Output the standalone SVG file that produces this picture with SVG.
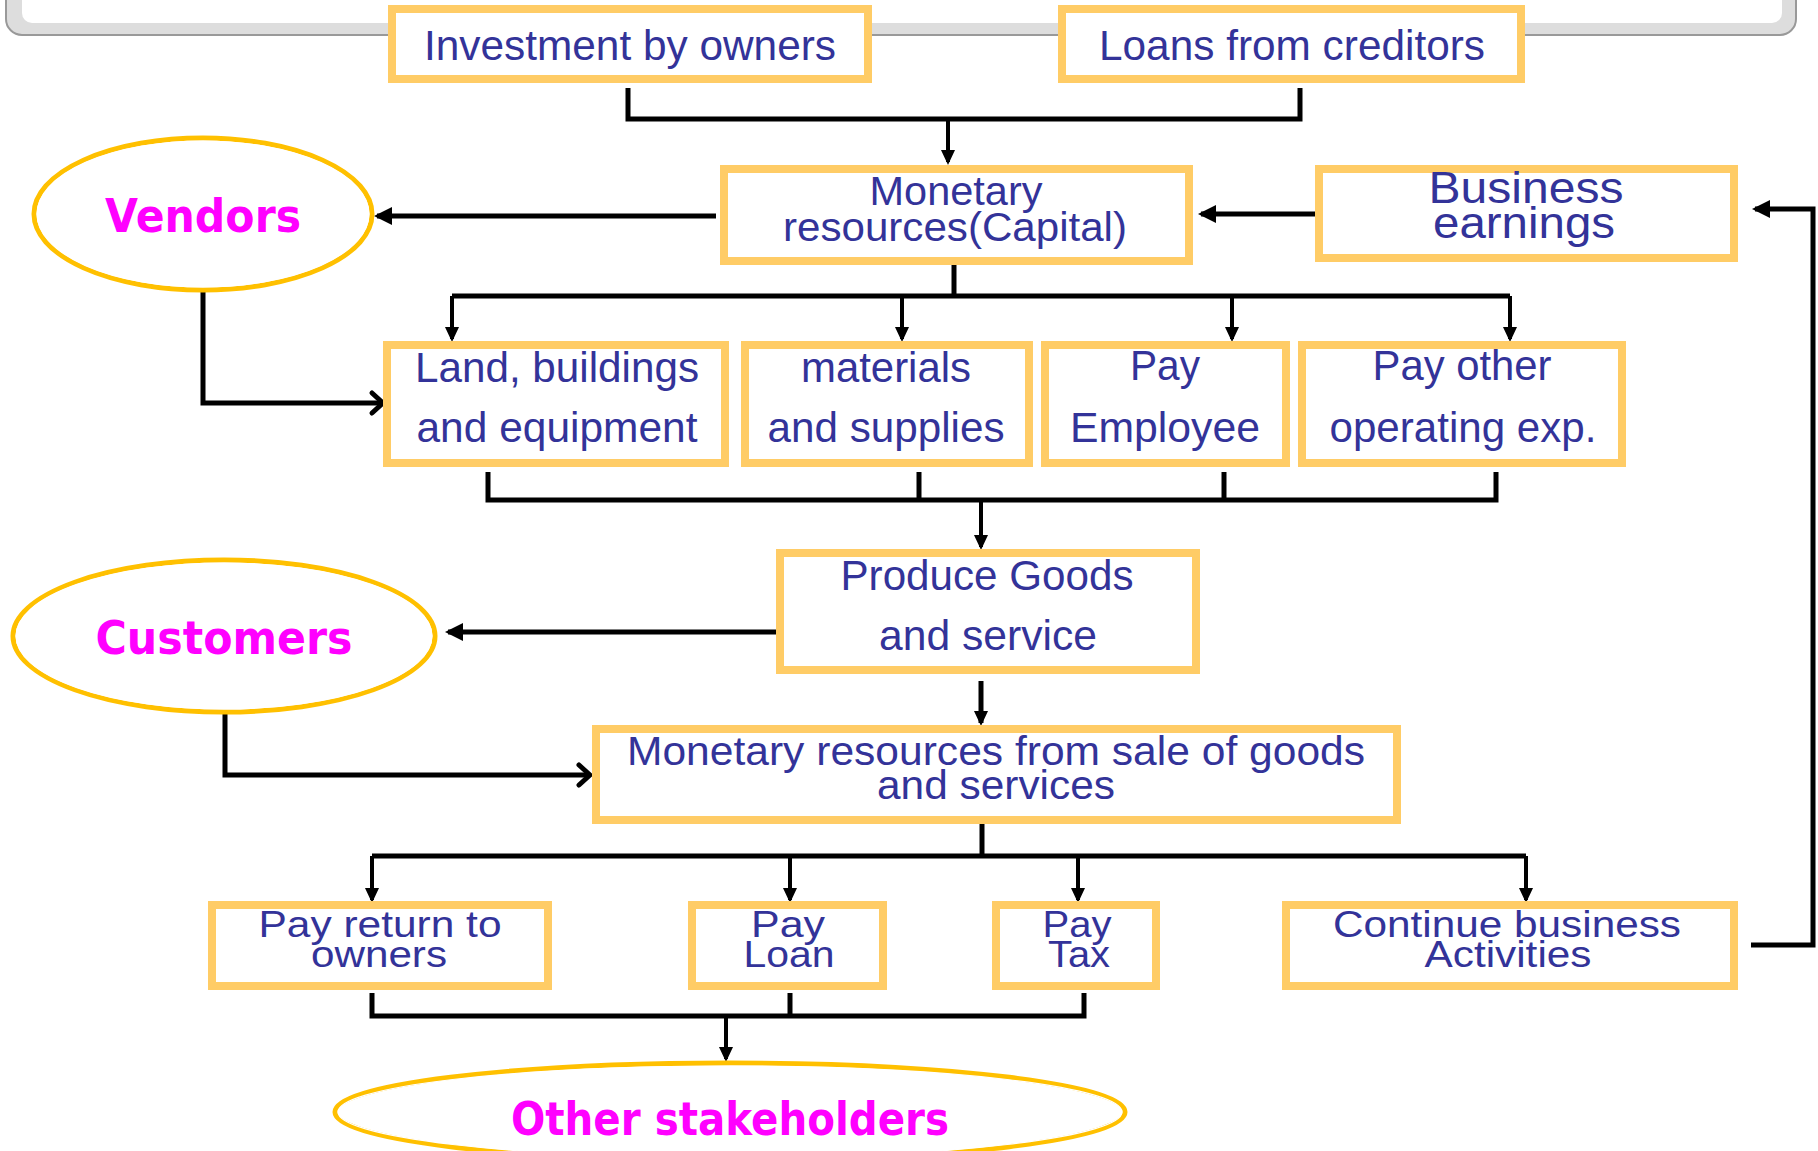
<svg xmlns="http://www.w3.org/2000/svg" width="1818" height="1151" viewBox="0 0 1818 1151">
<style>
.box{fill:#fff;stroke:#FFCC66;stroke-width:8}
.ell{fill:#fff;stroke:#FFC000;stroke-width:5}
.ell2{fill:none;stroke:#fff;stroke-width:1.2}
.t{font-family:"Liberation Sans",Arial,sans-serif;fill:#333399;text-anchor:middle}
.et{font-family:"DejaVu Sans",Verdana,sans-serif;font-weight:bold;fill:#FF00FF;text-anchor:middle}
.c{fill:none;stroke:#000;stroke-width:5}
.s{fill:none;stroke:#000;stroke-width:4}
</style>
<defs>
<marker id="ah" markerUnits="userSpaceOnUse" markerWidth="16" markerHeight="16" refX="12" refY="7" orient="auto"><path d="M0,0 L15,7 L0,14 z" fill="#000"/></marker>
<marker id="big" markerUnits="userSpaceOnUse" markerWidth="20" markerHeight="20" refX="15" refY="9" orient="auto"><path d="M0,0 L18,9 L0,18 z" fill="#000"/></marker>
<marker id="chev" markerUnits="userSpaceOnUse" markerWidth="20" markerHeight="28" refX="14" refY="12" orient="auto" overflow="visible"><path d="M3,2 L14,12 L3,22" fill="none" stroke="#000" stroke-width="5" stroke-linecap="round" stroke-linejoin="round"/></marker>
</defs>

<g id="panel">
<rect x="6" y="-30" width="1790" height="65" rx="16" fill="#DDDDDD" stroke="#999" stroke-width="2"/>
<rect x="22" y="-30" width="1760" height="53" rx="10" fill="#fff"/>
</g>

<g id="connectors">
<path class="c" d="M628,88 V119 H1300 V88"/>
<path class="s" d="M948,119 V162" marker-end="url(#ah)"/>
<path class="c" d="M716,216 H377" marker-end="url(#big)"/>
<path class="c" d="M1315,214 H1201" marker-end="url(#big)"/>
<path class="c" d="M203,292 V403 H383" marker-end="url(#chev)"/>
<path class="c" d="M954,261 V296"/>
<path class="c" d="M452,296 H1510"/>
<path class="s" d="M452,296 V339" marker-end="url(#ah)"/>
<path class="s" d="M902,296 V339" marker-end="url(#ah)"/>
<path class="s" d="M1232,296 V339" marker-end="url(#ah)"/>
<path class="s" d="M1510,296 V339" marker-end="url(#ah)"/>
<path class="c" d="M488,472 V500 H1496 V472"/>
<path class="c" d="M919,472 V500"/>
<path class="c" d="M1224,472 V500"/>
<path class="s" d="M981,500 V547" marker-end="url(#ah)"/>
<path class="c" d="M788,632 H448" marker-end="url(#big)"/>
<path class="c" d="M981,681 V723" marker-end="url(#ah)"/>
<path class="c" d="M225,713 V775 H590" marker-end="url(#chev)"/>
<path class="c" d="M982,820 V856"/>
<path class="c" d="M372,856 H1526"/>
<path class="s" d="M372,856 V900" marker-end="url(#ah)"/>
<path class="s" d="M790,856 V900" marker-end="url(#ah)"/>
<path class="s" d="M1078,856 V900" marker-end="url(#ah)"/>
<path class="s" d="M1526,856 V900" marker-end="url(#ah)"/>
<path class="c" d="M372,993 V1016 H1084 V993"/>
<path class="c" d="M790,993 V1016"/>
<path class="s" d="M726,1016 V1059" marker-end="url(#ah)"/>
<path class="c" d="M1751,945 H1813 V209 H1755" marker-end="url(#big)"/>
</g>

<g id="investment">
<rect class="box" x="392" y="9" width="476" height="70"/>
<text class="t" x="630" y="60" font-size="43" textLength="412" lengthAdjust="spacingAndGlyphs">Investment by owners</text>
</g>
<g id="loans">
<rect class="box" x="1062" y="9" width="459" height="70"/>
<text class="t" x="1292" y="60" font-size="43" textLength="386" lengthAdjust="spacingAndGlyphs">Loans from creditors</text>
</g>
<g id="capital">
<rect class="box" x="724" y="169" width="465" height="92"/>
<text class="t" x="956" y="205" font-size="41" textLength="173" lengthAdjust="spacingAndGlyphs">Monetary</text>
<text class="t" x="955" y="241" font-size="41" textLength="344" lengthAdjust="spacingAndGlyphs">resources(Capital)</text>
</g>
<g id="earnings">
<rect class="box" x="1319" y="169" width="415" height="89"/>
<text class="t" x="1526" y="203" font-size="44" textLength="195" lengthAdjust="spacingAndGlyphs">Business</text>
<text class="t" x="1524" y="238" font-size="44" textLength="182" lengthAdjust="spacingAndGlyphs">earnings</text>
</g>
<g id="vendors">
<ellipse class="ell" cx="203" cy="214" rx="169" ry="76"/>
<ellipse class="ell2" cx="203" cy="214" rx="166" ry="73"/>
<text class="et" x="203" y="232" font-size="47" textLength="196" lengthAdjust="spacingAndGlyphs">Vendors</text>
</g>
<g id="land">
<rect class="box" x="387" y="345" width="338" height="118"/>
<text class="t" x="557" y="382" font-size="42" textLength="284" lengthAdjust="spacingAndGlyphs">Land, buildings</text>
<text class="t" x="557" y="442" font-size="42" textLength="281" lengthAdjust="spacingAndGlyphs">and equipment</text>
</g>
<g id="materials">
<rect class="box" x="745" y="345" width="284" height="118"/>
<text class="t" x="886" y="382" font-size="42" textLength="170" lengthAdjust="spacingAndGlyphs">materials</text>
<text class="t" x="886" y="442" font-size="42" textLength="237" lengthAdjust="spacingAndGlyphs">and supplies</text>
</g>
<g id="employee">
<rect class="box" x="1045" y="345" width="241" height="118"/>
<text class="t" x="1165" y="380" font-size="42" textLength="70" lengthAdjust="spacingAndGlyphs">Pay</text>
<text class="t" x="1165" y="442" font-size="42" textLength="190" lengthAdjust="spacingAndGlyphs">Employee</text>
</g>
<g id="other-exp">
<rect class="box" x="1302" y="345" width="320" height="118"/>
<text class="t" x="1462" y="380" font-size="42" textLength="179" lengthAdjust="spacingAndGlyphs">Pay other</text>
<text class="t" x="1463" y="442" font-size="42" textLength="267" lengthAdjust="spacingAndGlyphs">operating exp.</text>
</g>
<g id="produce">
<rect class="box" x="780" y="553" width="416" height="117"/>
<text class="t" x="987" y="590" font-size="42" textLength="293" lengthAdjust="spacingAndGlyphs">Produce Goods</text>
<text class="t" x="988" y="650" font-size="42" textLength="218" lengthAdjust="spacingAndGlyphs">and service</text>
</g>
<g id="customers">
<ellipse class="ell" cx="224" cy="636" rx="211" ry="76"/>
<ellipse class="ell2" cx="224" cy="636" rx="208" ry="73"/>
<text class="et" x="224" y="654" font-size="47" textLength="257" lengthAdjust="spacingAndGlyphs">Customers</text>
</g>
<g id="sale">
<rect class="box" x="596" y="729" width="801" height="91"/>
<text class="t" x="996" y="765" font-size="40" textLength="738" lengthAdjust="spacingAndGlyphs">Monetary resources from sale of goods</text>
<text class="t" x="996" y="799" font-size="40" textLength="238" lengthAdjust="spacingAndGlyphs">and services</text>
</g>
<g id="return-owners">
<rect class="box" x="212" y="905" width="336" height="81"/>
<text class="t" x="380" y="937" font-size="37" textLength="243" lengthAdjust="spacingAndGlyphs">Pay return to</text>
<text class="t" x="379" y="967" font-size="37" textLength="136" lengthAdjust="spacingAndGlyphs">owners</text>
</g>
<g id="pay-loan">
<rect class="box" x="692" y="905" width="191" height="81"/>
<text class="t" x="788" y="937" font-size="37" textLength="74" lengthAdjust="spacingAndGlyphs">Pay</text>
<text class="t" x="789" y="967" font-size="37" textLength="91" lengthAdjust="spacingAndGlyphs">Loan</text>
</g>
<g id="pay-tax">
<rect class="box" x="996" y="905" width="160" height="81"/>
<text class="t" x="1077" y="937" font-size="37" textLength="69" lengthAdjust="spacingAndGlyphs">Pay</text>
<text class="t" x="1079" y="967" font-size="37" textLength="62" lengthAdjust="spacingAndGlyphs">Tax</text>
</g>
<g id="continue">
<rect class="box" x="1286" y="905" width="448" height="81"/>
<text class="t" x="1507" y="937" font-size="37" textLength="348" lengthAdjust="spacingAndGlyphs">Continue business</text>
<text class="t" x="1508" y="967" font-size="37" textLength="167" lengthAdjust="spacingAndGlyphs">Activities</text>
</g>
<g id="stakeholders">
<ellipse class="ell" cx="730" cy="1112" rx="395" ry="49"/>
<ellipse class="ell2" cx="730" cy="1112" rx="392" ry="46"/>
<text class="et" x="730" y="1135" font-size="46" textLength="438" lengthAdjust="spacingAndGlyphs">Other stakeholders</text>
</g>
</svg>
